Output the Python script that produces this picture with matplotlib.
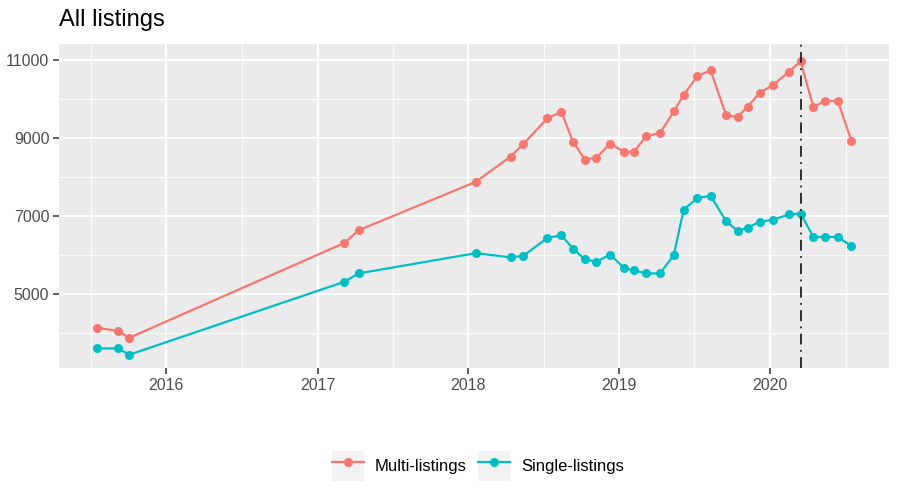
import matplotlib
matplotlib.use("Agg")
import matplotlib.pyplot as plt
import matplotlib.dates as mdates
from matplotlib.legend_handler import HandlerLine2D
from matplotlib.patches import Rectangle
import pandas as pd

# dates of the scrapes
dates = ["2015-07-18", "2015-09-06", "2015-10-03", "2017-03-07", "2017-04-10",
         "2018-01-19", "2018-04-13", "2018-05-14", "2018-07-11", "2018-08-14",
         "2018-09-11", "2018-10-10", "2018-11-07", "2018-12-10", "2019-01-12",
         "2019-02-05", "2019-03-08", "2019-04-10", "2019-05-13", "2019-06-06",
         "2019-07-09", "2019-08-10", "2019-09-17", "2019-10-15", "2019-11-08",
         "2019-12-07", "2020-01-09", "2020-02-16", "2020-03-15", "2020-04-15",
         "2020-05-13", "2020-06-13", "2020-07-16"]

multi = [4132, 4055, 3877, 6310, 6634, 7877, 8523, 8847, 9501, 9672, 8906,
         8447, 8498, 8855, 8651, 8643, 9051, 9128, 9680, 10106, 10583, 10736,
         9578, 9544, 9807, 10157, 10361, 10701, 10966, 9792, 9953, 9953, 8932]

single = [3604, 3604, 3443, 5314, 5528, 6047, 5940, 5978, 6437, 6506, 6166,
          5886, 5825, 6013, 5671, 5605, 5528, 5528, 5995, 7162, 7459, 7520,
          6864, 6616, 6703, 6846, 6907, 7042, 7060, 6463, 6463, 6463, 6233]

series_names = ["Multi-listings", "Single-listings"]
series_colors = ["#F8766D", "#00BFC4"]
cutoff = "2020-03-15"

y_major = [5000, 7000, 9000, 11000]
y_minor = [4000, 6000, 8000, 10000]
x_years = ["2016", "2017", "2018", "2019", "2020"]
x_mids = ["2015-07-02", "2016-07-02", "2017-07-02", "2018-07-02", "2019-07-02", "2020-07-02"]

plt.rcParams['font.family'] = ['Liberation Sans', 'DejaVu Sans']

x = pd.to_datetime(dates)

fig = plt.figure(figsize=(8.99, 4.98), dpi=100)
ax = fig.add_axes([59 / 899, 1 - 368 / 498, 830 / 899, 324 / 498])
ax.set_facecolor("#EBEBEB")
for s in ax.spines.values():
    s.set_visible(False)

# grid
for v in y_minor:
    ax.axhline(v, color="white", lw=0.6, zorder=0)
for v in y_major:
    ax.axhline(v, color="white", lw=1.3, zorder=0)
for d in x_mids:
    ax.axvline(pd.Timestamp(d), color="white", lw=0.6, zorder=0)
for d in x_years:
    ax.axvline(pd.Timestamp(d + "-01-01"), color="white", lw=1.3, zorder=0)

lines = []
for vals, name, col in zip([multi, single], series_names, series_colors):
    ln, = ax.plot(x, vals, color=col, lw=1.6, marker="o", ms=6.5,
                  markeredgewidth=0, label=name, zorder=3)
    lines.append(ln)

ax.axvline(pd.Timestamp(cutoff), color="#222222", lw=1.3,
           linestyle=(0, (6, 3, 1, 3)), zorder=4)

ax.set_xlim(pd.Timestamp("2015-04-16"), pd.Timestamp("2020-10-15"))
ax.set_ylim(3103, 11410)
ax.set_yticks(y_major)
ax.set_yticklabels([str(v) for v in y_major])
ax.set_xticks([pd.Timestamp(d + "-01-01") for d in x_years])
ax.xaxis.set_major_formatter(mdates.DateFormatter("%Y"))
ax.tick_params(axis="both", colors="#333333", length=4, width=1.1,
               labelsize=11.5, labelcolor="#4D4D4D", pad=3)

fig.text(59 / 899, 1 - 20 / 498, "All listings", fontsize=17,
         va="center", ha="left", color="black")


class KeyHandler(HandlerLine2D):
    def create_artists(self, legend, orig_handle, xdescent, ydescent,
                       width, height, fontsize, trans):
        arts = super().create_artists(legend, orig_handle, xdescent, ydescent,
                                      width, height, fontsize, trans)
        bg = Rectangle((-xdescent, -ydescent - height * 0.1), width, height * 1.2,
                       facecolor="#F2F2F2", edgecolor="none", transform=trans)
        return [bg] + list(arts)


fig.legend(handles=lines, loc="center", bbox_to_anchor=(478 / 899, 1 - 466 / 498),
           ncol=2, frameon=False, fontsize=12, handlelength=1.9, handleheight=2.0,
           handletextpad=0.65, columnspacing=0.7, borderpad=0,
           handler_map={l: KeyHandler(numpoints=1) for l in lines})

fig.savefig("out.png", dpi=100)
